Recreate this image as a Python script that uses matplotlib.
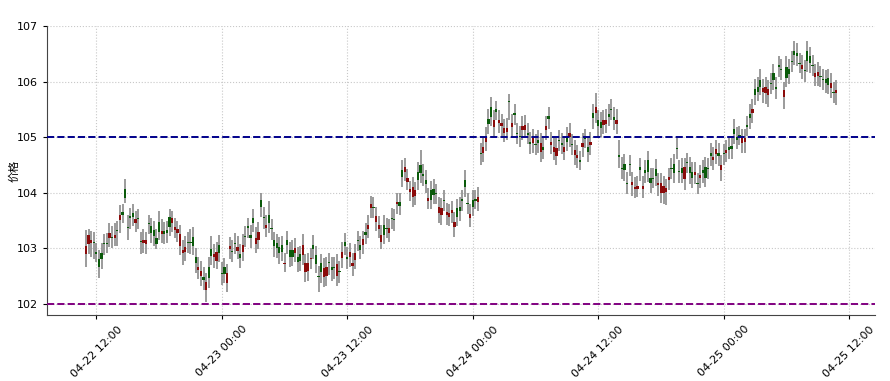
import numpy as np
import pandas as pd
import matplotlib
matplotlib.use("Agg")
import matplotlib.pyplot as plt
import matplotlib.dates as mdates

plt.rcParams['font.family'] = ['DejaVu Sans', 'Noto Sans CJK SC']

# 15-minute candles, 04-22 11:00 -> 04-25 10:45
start = '2024-04-22 11:00'
n_bars = 288

opens = [
    102.90, 103.08, 103.10, 103.11, 102.93, 102.80, 102.91, 103.09, 103.09, 103.18, 103.20, 103.19,
    103.33, 103.51, 103.65, 104.06, 103.39, 103.59, 103.64, 103.46, 103.55, 103.13, 103.09, 103.08,
    103.45, 103.40, 103.33, 103.18, 103.48, 103.26, 103.32, 103.33, 103.57, 103.45, 103.33, 103.28,
    103.04, 102.91, 102.94, 103.11, 103.12, 103.21, 102.84, 102.61, 102.50, 102.49, 102.26, 102.66,
    102.98, 102.84, 102.78, 103.06, 102.55, 102.66, 102.38, 102.98, 102.96, 103.09, 102.96, 102.90,
    102.94, 103.22, 103.40, 103.24, 103.54, 103.08, 103.15, 103.87, 103.57, 103.36, 103.60, 103.37,
    103.15, 103.09, 103.03, 103.06, 102.72, 103.15, 102.97, 102.97, 102.91, 102.85, 102.90, 102.88,
    102.58, 102.60, 102.81, 103.06, 102.88, 102.50, 102.73, 102.49, 102.50, 102.75, 102.67, 102.67,
    102.50, 102.59, 102.82, 103.12, 102.85, 102.85, 102.68, 102.79, 103.15, 103.06, 103.06, 103.30,
    103.34, 103.72, 103.75, 103.48, 103.34, 103.12, 103.42, 103.37, 103.28, 103.55, 103.53, 103.80,
    103.83, 104.41, 104.38, 104.20, 104.02, 103.93, 103.94, 104.38, 104.50, 104.33, 104.23, 103.86,
    104.05, 104.06, 103.99, 103.63, 103.60, 103.87, 103.60, 103.57, 103.63, 103.39, 103.72, 103.75,
    103.88, 104.23, 103.82, 103.54, 103.87, 103.88, 103.84, 104.71, 104.72, 104.92, 105.32, 105.55,
    105.19, 105.50, 105.25, 105.20, 105.08, 105.09, 105.65, 105.18, 105.43, 105.08, 105.02, 105.12,
    105.13, 105.08, 104.92, 104.89, 104.87, 104.95, 104.74, 104.82, 105.13, 105.38, 104.86, 104.74,
    104.66, 104.95, 104.90, 104.74, 105.00, 105.00, 104.87, 104.68, 104.62, 104.58, 104.83, 104.99,
    104.83, 104.86, 105.43, 105.44, 105.30, 105.28, 105.22, 105.24, 105.41, 105.51, 105.36, 105.24,
    104.67, 104.45, 104.52, 104.18, 104.51, 104.14, 104.06, 104.07, 104.46, 104.07, 104.40, 104.58,
    104.26, 104.27, 104.42, 104.14, 104.00, 103.99, 104.02, 104.23, 104.45, 104.52, 104.81, 104.39,
    104.44, 104.24, 104.56, 104.46, 104.38, 104.32, 104.18, 104.26, 104.41, 104.46, 104.45, 104.72,
    104.59, 104.70, 104.72, 104.41, 104.71, 104.72, 104.82, 104.84, 105.14, 105.00, 105.03, 104.89,
    104.91, 105.21, 105.42, 105.43, 105.86, 105.91, 106.03, 105.82, 105.79, 105.76, 105.98, 106.15,
    105.91, 106.29, 106.22, 105.72, 106.27, 106.22, 106.37, 106.54, 106.52, 106.34, 106.22, 106.21,
    106.54, 106.46, 106.30, 106.09, 106.10, 106.10, 106.04, 106.04, 106.06, 105.88, 105.82, 105.80,
]

closes = [
    103.04, 103.24, 103.15, 103.09, 102.90, 102.66, 102.80, 103.07, 103.07, 103.28, 103.18, 103.24,
    103.31, 103.60, 103.60, 103.90, 103.37, 103.54, 103.57, 103.52, 103.53, 103.11, 103.15, 103.15,
    103.43, 103.28, 103.22, 103.08, 103.30, 103.32, 103.25, 103.27, 103.39, 103.54, 103.39, 103.34,
    103.26, 102.97, 103.02, 103.09, 103.10, 103.04, 102.74, 102.67, 102.60, 102.43, 102.40, 102.46,
    102.86, 102.90, 102.94, 102.92, 102.53, 102.54, 102.55, 103.04, 102.94, 103.07, 103.03, 102.82,
    103.06, 103.20, 103.36, 103.18, 103.46, 103.18, 103.30, 103.74, 103.55, 103.42, 103.45, 103.35,
    103.04, 103.00, 102.91, 102.94, 102.74, 103.06, 102.85, 102.85, 103.00, 102.76, 102.78, 103.06,
    102.73, 102.74, 102.83, 102.98, 102.72, 102.48, 102.58, 102.64, 102.66, 102.73, 102.61, 102.65,
    102.72, 102.57, 102.94, 103.04, 102.80, 102.94, 102.74, 102.91, 103.13, 102.97, 103.16, 103.24,
    103.42, 103.80, 103.73, 103.58, 103.42, 103.24, 103.24, 103.35, 103.36, 103.53, 103.51, 103.84,
    103.76, 104.29, 104.46, 104.26, 104.06, 104.11, 104.05, 104.23, 104.35, 104.31, 104.16, 103.90,
    103.87, 103.96, 103.97, 103.75, 103.72, 103.85, 103.66, 103.64, 103.69, 103.48, 103.56, 103.68,
    103.86, 104.10, 103.80, 103.62, 103.74, 103.86, 103.93, 104.69, 104.83, 105.01, 105.24, 105.37,
    105.31, 105.46, 105.30, 105.26, 105.16, 105.17, 105.63, 105.26, 105.40, 105.06, 105.00, 105.20,
    105.22, 105.04, 104.88, 104.98, 104.85, 104.89, 104.90, 104.77, 105.20, 105.32, 104.92, 104.83,
    104.80, 104.93, 104.86, 104.82, 104.92, 105.07, 104.85, 104.77, 104.68, 104.56, 104.90, 104.97,
    104.74, 104.92, 105.34, 105.55, 105.20, 105.16, 105.30, 105.30, 105.36, 105.49, 105.30, 105.31,
    104.65, 104.43, 104.41, 104.16, 104.49, 104.20, 104.11, 104.12, 104.41, 104.12, 104.35, 104.38,
    104.17, 104.25, 104.30, 104.18, 104.17, 104.12, 104.08, 104.28, 104.43, 104.35, 104.79, 104.37,
    104.35, 104.46, 104.53, 104.35, 104.26, 104.38, 104.16, 104.32, 104.35, 104.26, 104.43, 104.66,
    104.65, 104.78, 104.66, 104.50, 104.69, 104.77, 104.77, 104.78, 105.06, 104.95, 105.01, 104.98,
    104.98, 105.19, 105.34, 105.50, 105.76, 105.82, 105.91, 105.88, 105.90, 105.86, 105.96, 106.03,
    105.86, 106.27, 106.20, 105.84, 106.06, 106.13, 106.35, 106.48, 106.46, 106.32, 106.30, 106.19,
    106.36, 106.33, 106.28, 106.16, 106.18, 106.08, 106.02, 105.97, 105.94, 105.98, 105.80, 105.85,
]

highs = [
    103.33, 103.34, 103.32, 103.30, 103.10, 102.97, 103.10, 103.25, 103.28, 103.45, 103.40, 103.45,
    103.50, 103.78, 103.80, 104.24, 103.60, 103.72, 103.80, 103.68, 103.70, 103.30, 103.35, 103.30,
    103.60, 103.55, 103.50, 103.35, 103.68, 103.52, 103.48, 103.50, 103.70, 103.68, 103.55, 103.50,
    103.42, 103.15, 103.22, 103.30, 103.35, 103.38, 103.00, 102.85, 102.78, 102.66, 102.55, 102.85,
    103.22, 103.08, 103.12, 103.24, 102.75, 102.82, 102.72, 103.20, 103.15, 103.28, 103.22, 103.08,
    103.25, 103.40, 103.55, 103.42, 103.70, 103.38, 103.48, 104.00, 103.75, 103.60, 103.85, 103.52,
    103.30, 103.25, 103.20, 103.22, 102.92, 103.32, 103.12, 103.15, 103.18, 103.02, 103.05, 103.25,
    102.90, 102.92, 103.00, 103.24, 103.05, 102.68, 102.90, 102.82, 102.85, 102.92, 102.85, 102.85,
    102.90, 102.78, 103.12, 103.28, 103.02, 103.10, 102.92, 103.08, 103.32, 103.22, 103.32, 103.45,
    103.60, 103.95, 103.92, 103.75, 103.58, 103.42, 103.60, 103.55, 103.52, 103.72, 103.70, 104.00,
    104.00, 104.58, 104.62, 104.42, 104.22, 104.28, 104.20, 104.55, 104.77, 104.52, 104.40, 104.08,
    104.22, 104.25, 104.15, 103.92, 103.90, 104.05, 103.82, 103.80, 103.85, 103.65, 103.88, 103.92,
    104.05, 104.40, 104.00, 103.80, 104.05, 104.05, 104.10, 104.90, 105.00, 105.18, 105.50, 105.72,
    105.48, 105.65, 105.48, 105.42, 105.32, 105.35, 105.77, 105.42, 105.60, 105.25, 105.20, 105.38,
    105.40, 105.25, 105.10, 105.15, 105.05, 105.12, 105.08, 105.00, 105.38, 105.55, 105.10, 105.00,
    104.98, 105.12, 105.08, 105.00, 105.18, 105.25, 105.05, 104.95, 104.85, 104.75, 105.08, 105.15,
    105.00, 105.10, 105.60, 105.80, 105.48, 105.45, 105.48, 105.50, 105.60, 105.68, 105.55, 105.50,
    104.95, 104.65, 104.70, 104.38, 104.68, 104.38, 104.28, 104.30, 104.62, 104.30, 104.58, 104.75,
    104.45, 104.45, 104.60, 104.35, 104.35, 104.30, 104.25, 104.45, 104.62, 104.70, 104.98, 104.58,
    104.62, 104.62, 104.72, 104.65, 104.55, 104.55, 104.35, 104.50, 104.58, 104.65, 104.62, 104.90,
    104.82, 104.95, 104.90, 104.68, 104.88, 104.95, 105.00, 105.02, 105.32, 105.18, 105.20, 105.15,
    105.15, 105.38, 105.60, 105.68, 106.05, 106.08, 106.22, 106.05, 106.08, 106.02, 106.15, 106.32,
    106.08, 106.45, 106.40, 106.00, 106.45, 106.40, 106.55, 106.72, 106.70, 106.52, 106.48, 106.38,
    106.72, 106.62, 106.48, 106.32, 106.35, 106.28, 106.22, 106.20, 106.22, 106.15, 106.00, 106.02,
]

lows = [
    102.67, 102.90, 102.85, 102.80, 102.75, 102.46, 102.62, 102.88, 102.92, 103.02, 103.00, 103.05,
    103.05, 103.28, 103.45, 103.81, 103.15, 103.35, 103.40, 103.30, 103.35, 102.90, 102.92, 102.90,
    103.25, 103.10, 103.05, 102.98, 103.15, 103.10, 103.08, 103.10, 103.22, 103.30, 103.18, 103.12,
    102.88, 102.70, 102.78, 102.92, 102.90, 102.88, 102.55, 102.45, 102.32, 102.25, 102.04, 102.28,
    102.70, 102.65, 102.62, 102.75, 102.35, 102.38, 102.22, 102.80, 102.76, 102.90, 102.80, 102.65,
    102.78, 103.02, 103.18, 103.00, 103.30, 102.92, 102.98, 103.57, 103.35, 103.20, 103.28, 103.15,
    102.85, 102.82, 102.72, 102.78, 102.58, 102.90, 102.66, 102.68, 102.75, 102.58, 102.60, 102.70,
    102.40, 102.42, 102.62, 102.80, 102.55, 102.22, 102.38, 102.30, 102.32, 102.52, 102.42, 102.45,
    102.32, 102.38, 102.65, 102.88, 102.62, 102.66, 102.50, 102.62, 102.95, 102.80, 102.90, 103.08,
    103.18, 103.55, 103.55, 103.32, 103.18, 102.98, 103.08, 103.18, 103.12, 103.35, 103.32, 103.62,
    103.60, 104.10, 104.22, 104.05, 103.85, 103.75, 103.78, 104.05, 104.18, 104.12, 104.00, 103.70,
    103.70, 103.80, 103.80, 103.45, 103.42, 103.68, 103.42, 103.40, 103.45, 103.20, 103.40, 103.50,
    103.68, 103.92, 103.62, 103.38, 103.58, 103.70, 103.68, 104.50, 104.55, 104.75, 105.05, 105.20,
    105.02, 105.30, 105.08, 105.02, 104.92, 104.95, 105.30, 105.00, 105.22, 104.88, 104.82, 104.95,
    104.98, 104.88, 104.70, 104.72, 104.68, 104.72, 104.55, 104.60, 104.95, 105.15, 104.70, 104.58,
    104.50, 104.75, 104.70, 104.58, 104.75, 104.82, 104.68, 104.50, 104.45, 104.40, 104.65, 104.80,
    104.56, 104.68, 105.15, 105.25, 105.02, 105.00, 105.05, 105.08, 105.20, 105.30, 105.12, 105.05,
    104.45, 104.25, 104.22, 103.98, 104.30, 103.95, 103.90, 103.92, 104.22, 103.90, 104.18, 104.20,
    104.00, 104.08, 104.12, 103.95, 103.82, 103.80, 103.78, 104.05, 104.25, 104.18, 104.60, 104.18,
    104.18, 104.05, 104.35, 104.15, 104.08, 104.15, 103.98, 104.08, 104.18, 104.10, 104.25, 104.48,
    104.40, 104.52, 104.48, 104.22, 104.50, 104.55, 104.60, 104.60, 104.88, 104.78, 104.85, 104.72,
    104.72, 105.02, 105.15, 105.25, 105.58, 105.65, 105.75, 105.62, 105.60, 105.55, 105.78, 105.85,
    105.68, 106.08, 106.02, 105.50, 105.90, 105.95, 106.18, 106.30, 106.28, 106.15, 106.05, 106.00,
    106.18, 106.15, 106.10, 105.92, 105.92, 105.90, 105.85, 105.80, 105.78, 105.70, 105.62, 105.58,
]

upper_level = 105
lower_level = 102

times = pd.date_range(start, periods=n_bars, freq='15min')
x = mdates.date2num(times)
o = np.array(opens)
c = np.array(closes)
h = np.array(highs)
l = np.array(lows)

fig = plt.figure(figsize=(8.9, 3.81), dpi=100)
ax = fig.add_axes([0.053, 0.173, 0.930, 0.759])

up = c >= o
colors = np.where(up, '#8b0a0a', '#0a5a0a')
width = 0.85 / 96  # share of a 15 minute slot, in days

ax.vlines(x, l, h, color='#8a8a8a', linewidth=1.2, zorder=2)
ax.bar(x, c - o, bottom=o, width=width, color=colors, zorder=3)

ax.axhline(upper_level, color='darkblue', linestyle='--', linewidth=1.4, zorder=4)
ax.axhline(lower_level, color='purple', linestyle='--', linewidth=1.4, zorder=4)

ax.set_ylim(101.8, 107.0)
ax.set_yticks([102, 103, 104, 105, 106, 107])
ax.xaxis.set_major_locator(mdates.HourLocator(byhour=[0, 12]))
ax.xaxis.set_major_formatter(mdates.DateFormatter('%m-%d %H:%M'))
ax.tick_params(labelsize=8, length=3)
plt.setp(ax.get_xticklabels(), rotation=45, ha='center')

ax.set_ylabel('价格', family=['Noto Sans CJK SC', 'DejaVu Sans'], fontsize=8)
ax.yaxis.set_label_coords(-0.034, 0.5)
ax.grid(True, linestyle=':', color='#c8c8c8', linewidth=0.8)
ax.set_axisbelow(True)
for side in ['top', 'right']:
    ax.spines[side].set_visible(False)
for side in ['left', 'bottom']:
    ax.spines[side].set_color('#444444')

fig.savefig('out.png', dpi=100)
